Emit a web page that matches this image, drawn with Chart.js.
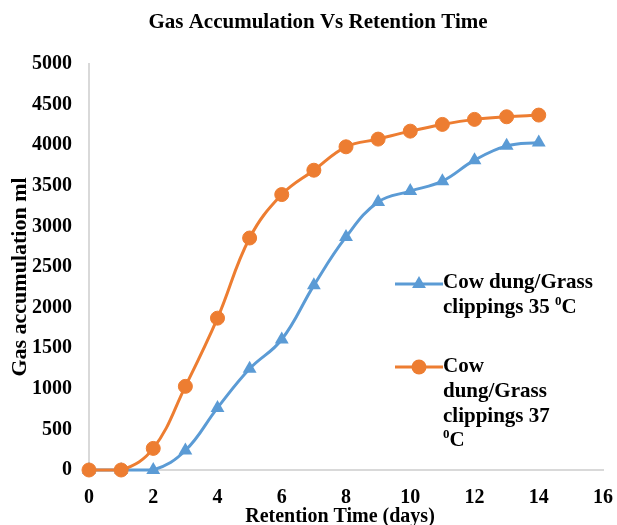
<!DOCTYPE html>
<html><head><meta charset="utf-8">
<script src="https://cdn.jsdelivr.net/npm/chart.js@4/dist/chart.umd.min.js"></script>
<style>html,body{margin:0;padding:0;background:#fff}#wrap{width:617px;height:525px}</style>
</head><body><div id="wrap"><canvas id="c" width="617" height="525"></canvas></div>
<script>
// ---- data ----
const days = [0, 1, 2, 3, 4, 5, 6, 7, 8, 9, 10, 11, 12, 13, 14];
const gas35 = [0, 0, 0, 240, 765, 1246, 1607, 2274, 2870, 3301, 3435, 3557, 3816, 3992, 4034];
const gas37 = [0, 0, 266, 1030, 1870, 2857, 3392, 3692, 3980, 4075, 4173, 4256, 4318, 4350, 4371];
const xTicks = [0, 2, 4, 6, 8, 10, 12, 14, 16];
const yTicks = [0, 500, 1000, 1500, 2000, 2500, 3000, 3500, 4000, 4500, 5000];
const seriesLabels = ['Cow dung/Grass clippings 35 \u2070C', 'Cow dung/Grass clippings 37 \u2070C'];
const legendLines = [['Cow dung/Grass', 'clippings 35 \u2070C'], ['Cow', 'dung/Grass', 'clippings 37', '\u2070C']];
const titleText = 'Gas Accumulation Vs Retention Time';
const xTitle = 'Retention Time (days)';
const yTitle = 'Gas accumulation ml';

// ---- styles ----
const SERIF = "'Liberation Serif','Times New Roman',serif";
const BLUE = '#5B9BD5', ORANGE = '#ED7D31', AXIS = '#D9D9D9';

const toXY = vals => days.map((d, i) => ({x: d, y: vals[i]}));

const textPlugin = {
  id: 'texts',
  afterDraw(chart) {
    const ctx = chart.ctx;
    ctx.save();
    ctx.fillStyle = '#000';
    ctx.textBaseline = 'middle';
    ctx.textAlign = 'center';
    // main title
    ctx.font = 'bold 21px ' + SERIF;
    ctx.fillText(titleText, 318, 23);
    // x axis title
    ctx.font = 'bold 20px ' + SERIF;
    ctx.fillText(xTitle, 340, 517);
    // y axis title
    ctx.save();
    ctx.translate(20, 277);
    ctx.rotate(-Math.PI / 2);
    ctx.font = 'bold 22px ' + SERIF;
    ctx.fillText(yTitle, 0, 0);
    ctx.restore();

    // legend
    const spec = [
      {ds: 0, lineY: 284, textX: 443, firstY: 283, step: 25},
      {ds: 1, lineY: 367, textX: 443, firstY: 367, step: 24.6}
    ];
    spec.forEach((s, k) => {
      const dset = chart.data.datasets[s.ds];
      ctx.strokeStyle = dset.borderColor;
      ctx.lineWidth = 3;
      ctx.beginPath(); ctx.moveTo(395, s.lineY); ctx.lineTo(443, s.lineY); ctx.stroke();
      ctx.fillStyle = dset.borderColor;
      ctx.beginPath();
      if (dset.pointStyle === 'triangle') {
        const r = dset.pointRadius;
        ctx.moveTo(419, s.lineY - r);
        ctx.lineTo(419 + r * 0.866, s.lineY + r * 0.5);
        ctx.lineTo(419 - r * 0.866, s.lineY + r * 0.5);
        ctx.closePath();
      } else {
        ctx.arc(419, s.lineY, dset.pointRadius + 0.5, 0, Math.PI * 2);
      }
      ctx.fill();
      ctx.fillStyle = '#000';
      ctx.textAlign = 'left';
      legendLines[k].forEach((ln, j) => {
        const y = s.firstY + j * s.step;
        let x = s.textX;
        const parts = ln.split('\u2070');
        parts.forEach((p, pi) => {
          if (pi > 0) {
            ctx.font = 'bold 13px ' + SERIF;
            ctx.fillText('0', x, y - 6);
            x += ctx.measureText('0').width;
          }
          ctx.font = 'bold 21px ' + SERIF;
          ctx.fillText(p, x, y);
          x += ctx.measureText(p).width;
        });
      });
    });
    ctx.restore();
  }
};

new Chart(document.getElementById('c'), {
  type: 'line',
  data: {
    datasets: [
      {label: seriesLabels[0], data: toXY(gas35), borderColor: BLUE, backgroundColor: BLUE,
       borderWidth: 3, pointStyle: 'triangle', pointRadius: 8, pointBorderWidth: 0,
       pointBackgroundColor: BLUE, tension: 0.4, clip: false, order: 2},
      {label: seriesLabels[1], data: toXY(gas37), borderColor: ORANGE, backgroundColor: ORANGE,
       borderWidth: 3, pointStyle: 'circle', pointRadius: 7, pointBorderWidth: 1,
       pointBackgroundColor: ORANGE, tension: 0.4, clip: false, order: 1}
    ]
  },
  options: {
    responsive: false,
    animation: false,
    devicePixelRatio: 1,
    layout: {padding: {top: 64, right: 14, bottom: 0, left: 0}},
    plugins: {
      legend: {display: false},
      tooltip: {enabled: false},
      title: {display: false}
    },
    scales: {
      x: {
        type: 'linear', min: 0, max: 16,
        afterBuildTicks: s => { s.ticks = xTicks.map(v => ({value: v})); },
        afterFit: s => { s.height = 55; s.paddingLeft = 0; s.paddingRight = 0; },
        grid: {display: false, drawTicks: false},
        border: {display: true, color: AXIS, width: 2},
        ticks: {color: '#000', padding: 16, maxRotation: 0, callback: v => String(v),
                font: {family: SERIF, size: 20, weight: 'bold'}}
      },
      y: {
        min: 0, max: 5000,
        afterBuildTicks: s => { s.ticks = yTicks.map(v => ({value: v})); },
        afterFit: s => { s.width = 89; s.paddingTop = 0; s.paddingBottom = 0; },
        grid: {display: false, drawTicks: false},
        border: {display: true, color: AXIS, width: 2},
        ticks: {color: '#000', padding: 17, callback: v => String(v),
                font: {family: SERIF, size: 20, weight: 'bold'}}
      }
    }
  },
  plugins: [textPlugin]
});
</script></body></html>
